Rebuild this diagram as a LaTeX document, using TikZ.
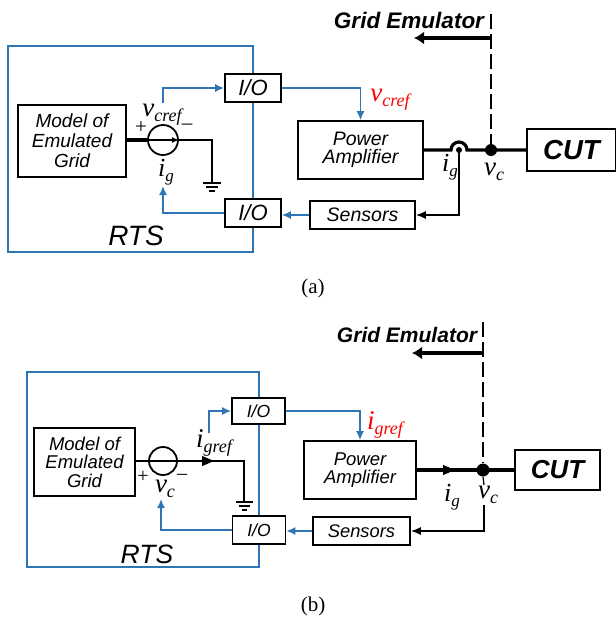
\documentclass[tikz,border=0pt]{standalone}
\usepackage{fontspec}
\setmainfont{Liberation Serif}
\setsansfont{Liberation Sans}
\usetikzlibrary{arrows.meta}
\definecolor{rtsblue}{HTML}{2E75B6}
\newcommand{\fs}[1]{\fontsize{#1}{#1}\selectfont}
\newcommand{\fsl}[2]{\fontsize{#1}{#2}\selectfont}
\newcommand{\sym}[3]{{\fs{#1}\itshape #2\raisebox{-.2em}{\fs{\numexpr #1*2/3\relax}\itshape #3}}}
\tikzset{
  x=1pt,y=-1pt,
  block/.style={draw=black,fill=white,line width=1.6pt,inner sep=0pt,align=center,font=\sffamily\itshape},
  rtsbox/.style={draw=rtsblue,line width=1.9pt},
  bluewire/.style={draw=rtsblue,line width=1.6pt,-{Latex[length=9pt,width=8pt]}},
  blackwire/.style={draw=black,line width=1.6pt,-{Latex[length=10pt,width=8pt]}},
  power/.style={draw=black,line width=3.2pt},
  thin wire/.style={draw=black,line width=2.2pt},
  gnd/.style={draw=black,line width=1.6pt},
  lab/.style={inner sep=0pt},
  srcnode/.style={circle,draw=black,line width=1.8pt,fill=white,inner sep=0pt},
  dashline/.style={draw=black,line width=1.2pt,dash pattern=on 15pt off 5pt},
  bigarrow/.style={draw=black,line width=3.6pt,-{Latex[length=10pt,width=13pt]}},
  midarrow/.style={draw=black,line width=1pt,-{Triangle[length=12pt,width=10pt]}},
  dotnode/.style={circle,fill=black,inner sep=0pt},
}
\begin{document}
\begin{tikzpicture}
\useasboundingbox (0,0) rectangle (616,619);
% ===== panel (a) =====
\node[rtsbox,minimum width=245pt,minimum height=206pt,inner sep=0pt] (rtsa) at (130.5,149) {};
\node[lab,font=\sffamily\itshape\fs{28}] (rtsta) at (136,236) {RTS};
\node[block,minimum width=108pt,minimum height=72pt,font=\sffamily\itshape\fsl{19}{20}] (mga) at (72,141) {Model of\\Emulated\\Grid};
\node[srcnode,minimum size=30pt] (srca) at (163,140) {};
\node[block,minimum width=56pt,minimum height=28pt,font=\sffamily\itshape\fs{22}] (ioa1) at (253,88) {I/O};
\node[block,minimum width=56pt,minimum height=28pt,font=\sffamily\itshape\fs{22}] (ioa2) at (253,213) {I/O};
\node[block,minimum width=125pt,minimum height=58pt,font=\sffamily\itshape\fsl{19.5}{18}] (paa) at (360.5,150) {Power\\Amplifier};
\node[block,minimum width=105pt,minimum height=28pt,font=\sffamily\itshape\fs{19.5}] (sena) at (362.5,215) {Sensors};
\node[block,minimum width=89pt,minimum height=42pt,font=\sffamily\bfseries\itshape\fs{27.5}] (cuta) at (571.5,150) {CUT};
\coordinate (gnda) at (212,183);
\coordinate (tapa) at (459,150);
\node[dotnode,minimum size=12pt] (dota) at (491,150) {};
\coordinate (dashta) at (491,14);
\coordinate (gearr) at (414,38);
\coordinate (gestart) at (491,38);
\coordinate (srcatop) at (163,103);
\coordinate (srcabot) at (163,186);
% wires
\draw[power] (mga.east |- srca.west) -- (srca.west);
\draw[thin wire] (srca.east) -| (gnda);
\draw[gnd] (203,183) -- (221,183);
\draw[gnd] (206,187) -- (218,187);
\draw[gnd] (209,191) -- (215,191);
\draw[draw=black,line width=1.4pt,-{Latex[length=7pt,width=6pt]}] (srca.west) -- (srca.east);
\draw[bluewire] (srcatop) |- (ioa1.west);
\draw[bluewire] (ioa2.west) -| (srcabot);
\draw[bluewire] (ioa1.east) -| (paa.north);
\draw[bluewire] (sena.west) -- (sena.west -| ioa2.east);
\draw[power] (paa.east) -- (451,150) arc[start angle=180,end angle=0,radius=8pt] -- (cuta.west);
\draw[blackwire] (tapa) |- (sena.east);
\fill (tapa) circle (3pt);
\draw[dashline] (dashta) -- (dota.north);
\draw[bigarrow] (gestart) -- (gearr);
% labels
\node[lab,font=\sffamily\bfseries\itshape\fs{22.5}] (gea) at (409,20) {Grid Emulator};
\node[lab,text=red] (vcra) at (390,100) {\sym{27}{v}{cref}};
\node[lab] (vcrs) at (162,115) {\sym{27}{v}{cref}};
\node[lab] (iga1) at (166,172) {\sym{26}{i}{g}};
\node[lab] (iga2) at (450,167) {\sym{26}{i}{g}};
\node[lab] (vca) at (494,172) {\sym{27}{v}{c}};
\node[lab,font=\fs{21}] (plusa) at (141,128) {+};
\node[lab,font=\fs{21}] (minusa) at (187,127) {\textendash};
\node[lab,font=\fs{21}] (capa) at (313,288) {(a)};
% ===== panel (b) =====
\node[rtsbox,minimum width=232pt,minimum height=195pt,inner sep=0pt] (rtsb) at (143,469.5) {};
\node[lab,font=\sffamily\itshape\fs{26.5}] (rtstb) at (147,554) {RTS};
\node[block,minimum width=101pt,minimum height=68pt,font=\sffamily\itshape\fsl{18.5}{18.5}] (mgb) at (84.5,462) {Model of\\Emulated\\Grid};
\coordinate (gndb) at (244,502);
\node[srcnode,minimum size=28pt,fill=none] (srcb) at (163,461) {};
\node[block,minimum width=53pt,minimum height=26pt,font=\sffamily\itshape\fs{17.5}] (iob1) at (258.5,411) {I/O};
\node[block,minimum width=53pt,minimum height=28pt,font=\sffamily\itshape\fs{17.5}] (iob2) at (259,530) {I/O};
\node[block,minimum width=112pt,minimum height=58pt,font=\sffamily\itshape\fsl{18.5}{18}] (pab) at (360,470) {Power\\Amplifier};
\node[block,minimum width=97pt,minimum height=28pt,font=\sffamily\itshape\fs{18.3}] (senb) at (361.5,531) {Sensors};
\node[block,minimum width=85pt,minimum height=40pt,font=\sffamily\bfseries\itshape\fs{26}] (cutb) at (557.5,470) {CUT};
\node[dotnode,minimum size=13pt] (dotb) at (483,470) {};
\coordinate (dashtb) at (483,322);
\coordinate (gebs) at (483,353);
\coordinate (gebe) at (412,353);
\coordinate (srcbtop) at (209,433);
\coordinate (vctip) at (161,499);
\coordinate (vdown) at (484,505);
\coordinate (vshort) at (484,485);
\draw[thin wire,line width=2.6pt] (mgb.east |- srcb.west) -- (244,461) -- (gndb);
\draw[midarrow] (203,461) -- (214,461);
\draw[gnd] (236,502) -- (253,502);
\draw[gnd] (239,506) -- (250,506);
\draw[gnd] (242,510) -- (247,510);
\draw[bluewire] (srcbtop) |- (iob1.west);
\draw[bluewire] (iob2.west) -| (vctip);
\draw[bluewire] (iob1.east) -| (pab.north);
\draw[bluewire] (senb.west) -- (senb.west -| iob2.east);
\draw[power] (pab.east) -- (cutb.west);
\draw[midarrow] (444,470) -- (455,470);
\draw[dashline] (dashtb) -- (dotb.north);
\draw[draw=black,line width=1.2pt] (dotb.south) -- (vshort);
\draw[blackwire] (vdown) |- (senb.east);
\draw[bigarrow] (gebs) -- (gebe);
% labels
\node[lab,font=\sffamily\bfseries\itshape\fs{21}] (geb) at (407,335) {Grid Emulator};
\node[lab,text=red] (igr) at (385,425) {\sym{27}{i}{gref}};
\node[lab] (igr2) at (214,443) {\sym{27}{i}{gref}};
\node[lab] (vcb1) at (165,489) {\sym{27}{v}{c}};
\node[lab] (igb) at (452,497) {\sym{26}{i}{g}};
\node[lab] (vcb2) at (488,495) {\sym{27}{v}{c}};
\node[lab,font=\fs{20}] (plusb) at (143,477) {+};
\node[lab,font=\fs{20}] (minusb) at (182,477) {\textendash};
\node[lab,font=\fs{21}] (capb) at (313,606) {(b)};
\end{tikzpicture}
\end{document}
